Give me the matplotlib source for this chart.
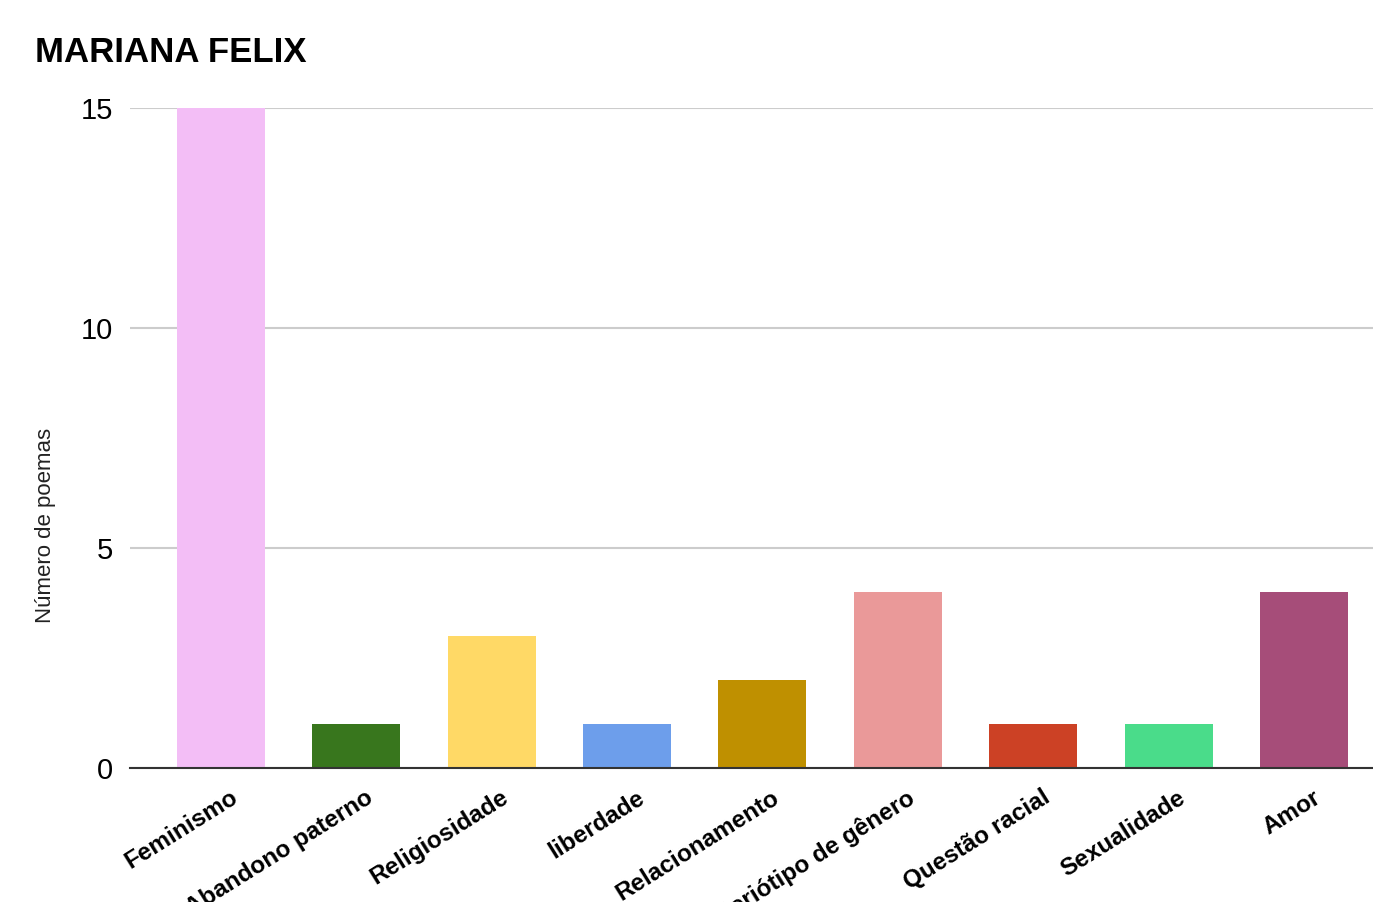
import matplotlib
matplotlib.use("Agg")
import matplotlib.pyplot as plt
import matplotlib.transforms as mtransforms

plt.rcParams['font.family'] = ['Liberation Sans', 'DejaVu Sans']

# data
temas = ["Feminismo", "Abandono paterno", "Religiosidade", "liberdade", "Relacionamento",
         "Esteriótipo de gênero", "Questão racial", "Sexualidade", "Amor"]
poemas = [15, 1, 3, 1, 2, 4, 1, 1, 4]
cores = ["#F3BEF6", "#38761D", "#FFD966", "#6D9EEB", "#BF9000",
         "#EA9999", "#CC4125", "#4ADC8A", "#A64D79"]
y_ticks = [0, 5, 10, 15]

fig = plt.figure(figsize=(13.73, 9.02), dpi=100)
ax = fig.add_axes([130 / 1373, (902 - 768) / 902, 1 - 130 / 1373, (768 - 108) / 902])

x = list(range(len(temas)))
ax.bar(x, poemas, width=0.65, color=cores, zorder=3)

ax.set_xlim(-0.672, 8.51)
ax.set_ylim(0, 15)
ax.set_yticks(y_ticks)
ax.set_yticklabels([str(t) for t in y_ticks], fontsize=21)
ax.tick_params(axis='y', length=0, pad=12)
ax.grid(axis='y', color='#cccccc', linewidth=1.5, zorder=0)
for s in ['top', 'right', 'left']:
    ax.spines[s].set_visible(False)
ax.spines['bottom'].set_color('#333333')
ax.spines['bottom'].set_linewidth(1.5)
ax.spines['bottom'].set_zorder(4)

ax.set_xticks(x)
ax.set_xticklabels(temas, rotation=32, ha='right', va='top', rotation_mode='anchor',
                   fontsize=17.5, fontweight='bold')
ax.tick_params(axis='x', length=0, pad=13)
offset = mtransforms.ScaledTranslation(9 / 100, 0, fig.dpi_scale_trans)
for lbl in ax.get_xticklabels():
    lbl.set_transform(lbl.get_transform() + offset)

fig.text(46 / 1373, 1 - 525 / 902, "Número de poemas", fontsize=16, color='#222222',
         rotation=90, ha='center', va='center')

fig.text(35 / 1373, 1 - 62 / 902, "MARIANA FELIX", fontsize=25, fontweight='bold',
         va='baseline', ha='left')

fig.savefig("out.png", dpi=100)
